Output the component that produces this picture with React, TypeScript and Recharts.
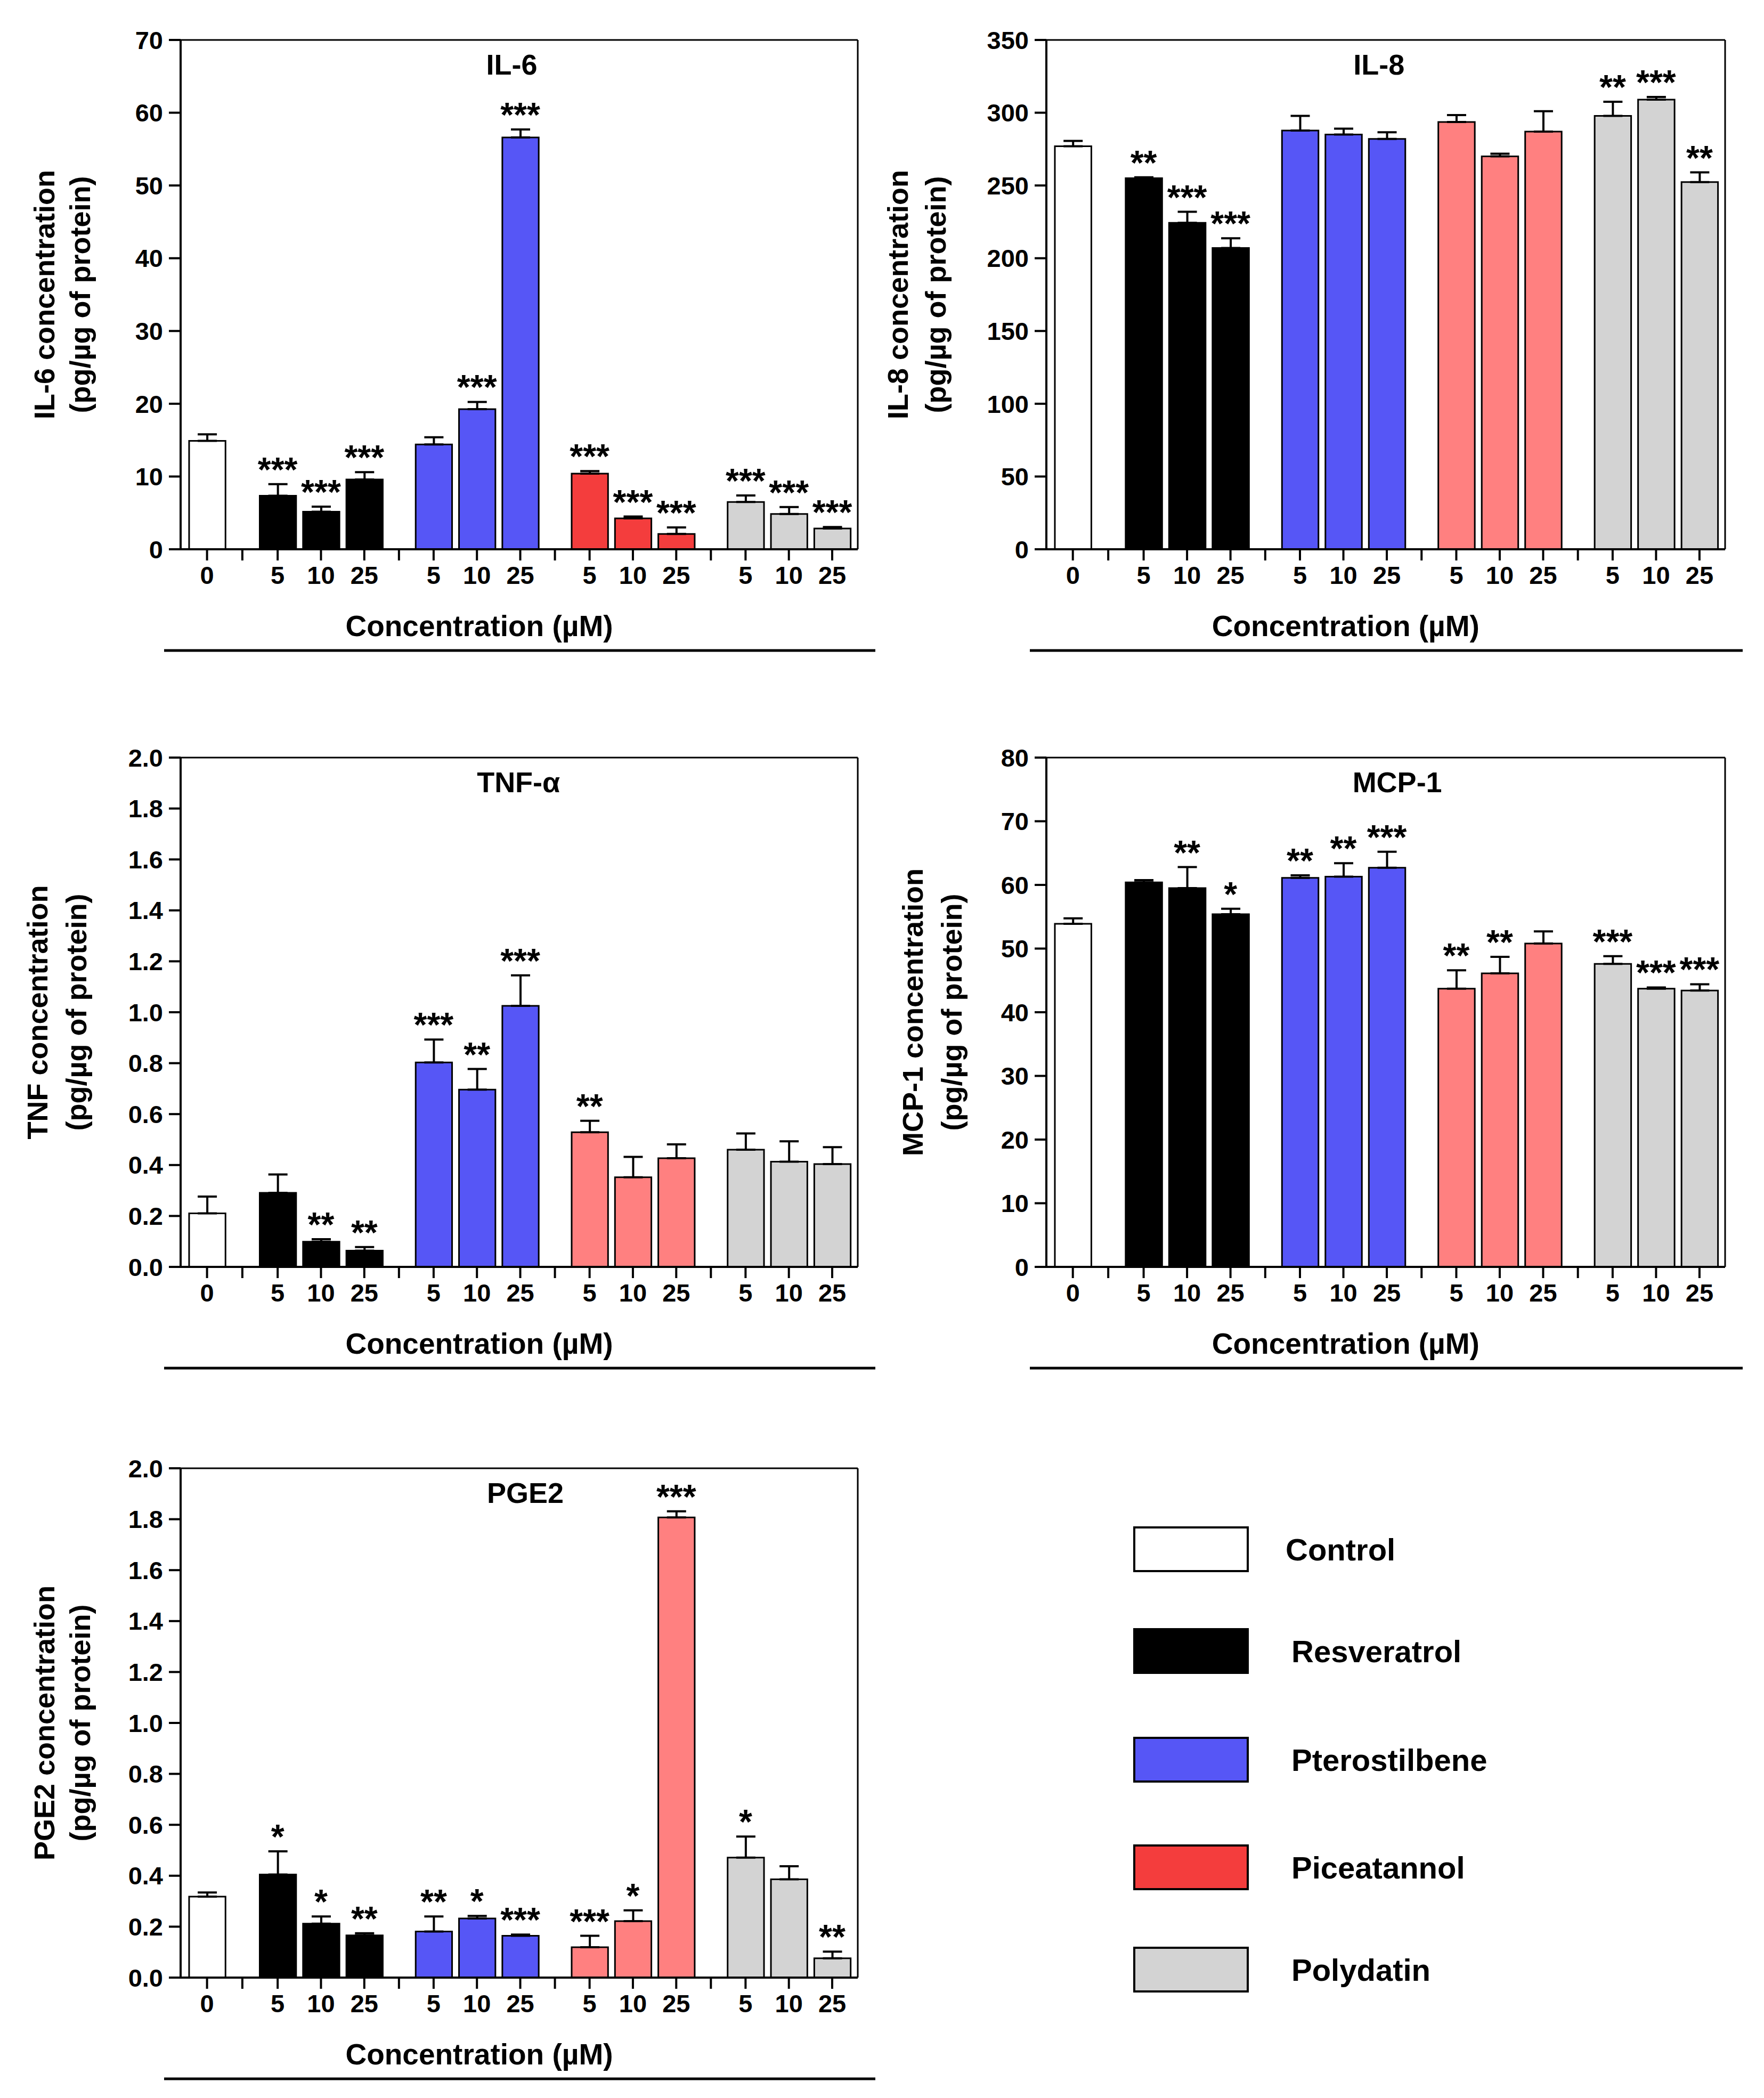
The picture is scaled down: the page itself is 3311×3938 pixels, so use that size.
import React from 'react';
import { ComposedChart, Bar, Cell, ErrorBar, Scatter, XAxis, YAxis, ReferenceLine, Label } from 'recharts';

const FONT = "'Liberation Sans', Arial, Helvetica, sans-serif";

// bars: control, then 3 doses for each stilbene
const treatments = ['Control', 'Resveratrol', 'Pterostilbene', 'Piceatannol', 'Polydatin'];
const barTreatment = [0, 1, 1, 1, 2, 2, 2, 3, 3, 3, 4, 4, 4];
const doseLabels = ['0', '5', '10', '25', '5', '10', '25', '5', '10', '25', '5', '10', '25'];
const treatmentColors = ['#ffffff', '#000000', '#5656f6', '#f43d3d', '#d3d3d3'];
const lightPiceatannol = '#ff8080';

// IL-6
const il6Mean = [14.9, 7.35, 5.16, 9.6, 14.4, 19.25, 56.6, 10.4, 4.25, 2.1, 6.5, 4.86, 2.85];
const il6Sd = [0.9, 1.6, 0.7, 1.0, 1.0, 1.0, 1.1, 0.35, 0.25, 0.9, 0.9, 0.95, 0.2];
const il6Sig = ['', '***', '***', '***', '', '***', '***', '***', '***', '***', '***', '***', '***'];
const il6Ticks = [0, 10, 20, 30, 40, 50, 60, 70];

// IL-8
const il8Mean = [277, 255, 224.3, 207, 287.8, 285, 282, 293.6, 270, 287, 297.8, 309, 252.3];
const il8Sd = [3.6, 0.6, 7.6, 6.7, 10, 4, 4.6, 4.8, 1.8, 14, 9.7, 1.8, 6.7];
const il8Sig = ['', '**', '***', '***', '', '', '', '', '', '', '**', '***', '**'];
const il8Ticks = [0, 50, 100, 150, 200, 250, 300, 350];

// TNF-alpha
const tnfMean = [0.21, 0.291, 0.099, 0.064, 0.803, 0.696, 1.025, 0.529, 0.352, 0.427, 0.46, 0.413, 0.404];
const tnfSd = [0.066, 0.072, 0.01, 0.014, 0.09, 0.081, 0.12, 0.045, 0.08, 0.054, 0.064, 0.08, 0.066];
const tnfSig = ['', '', '**', '**', '***', '**', '***', '**', '', '', '', '', ''];
const tnfTicks = [0, 0.2, 0.4, 0.6, 0.8, 1.0, 1.2, 1.4, 1.6, 1.8, 2.0];

// MCP-1
const mcpMean = [53.9, 60.4, 59.5, 55.4, 61.1, 61.3, 62.7, 43.7, 46.1, 50.8, 47.6, 43.7, 43.4];
const mcpSd = [0.85, 0.35, 3.3, 0.85, 0.4, 2.1, 2.5, 2.9, 2.6, 1.9, 1.2, 0.2, 1.0];
const mcpSig = ['', '', '**', '*', '**', '**', '***', '**', '**', '', '***', '***', '***'];
const mcpTicks = [0, 10, 20, 30, 40, 50, 60, 70, 80];

// PGE2
const pgeMean = [0.318, 0.405, 0.212, 0.166, 0.181, 0.232, 0.164, 0.119, 0.222, 1.807, 0.471, 0.386, 0.076];
const pgeSd = [0.016, 0.091, 0.028, 0.008, 0.059, 0.01, 0.005, 0.045, 0.042, 0.024, 0.083, 0.051, 0.026];
const pgeSig = ['', '*', '*', '**', '**', '*', '***', '***', '*', '***', '*', '', '**'];
const pgeTicks = [0, 0.2, 0.4, 0.6, 0.8, 1.0, 1.2, 1.4, 1.6, 1.8, 2.0];

// layout of the x axis (units = distance between neighbouring bars)
const FIRST_DOSE = 1.63;
const GROUP_STEP = 3.6;
const X_DOMAIN: [number, number] = [-0.61, 15.02];

const xOf = (i: number) => {
  const g = barTreatment[i];
  if (g === 0) return 0;
  return FIRST_DOSE + (g - 1) * GROUP_STEP + (i - 1 - (g - 1) * 3);
};
const barX = barTreatment.map((_, i) => xOf(i));
const separators = [0, 3, 6, 9].map((i) => (barX[i] + barX[i + 1]) / 2);
const xTicks = [...barX, ...separators].sort((a, b) => a - b);
const tickText = new Map<number, string>(barX.map((x, i) => [x, doseLabels[i]]));

const Y_AXIS_W = 339;
const PLOT_H = 956;
const M_TOP = 40;
const M_RIGHT = 60;
const X_AXIS_H = 230;

type Panel = {
  title: string;
  titleFrac: number;
  yLine1: string;
  yOffsets: [number, number];
  mean: number[];
  sd: number[];
  sig: string[];
  ticks: number[];
  decimals: number;
  picColor: string;
  plotLeft: number;
  plotTop: number;
  plotW: number;
};

const panels: Panel[] = [
  { title: 'IL-6', titleFrac: 0.489, yLine1: 'IL-6 concentration', yOffsets: [-256, -189], mean: il6Mean, sd: il6Sd, sig: il6Sig, ticks: il6Ticks, decimals: 0, picColor: treatmentColors[3], plotLeft: 339, plotTop: 75, plotW: 1271 },
  { title: 'IL-8', titleFrac: 0.49, yLine1: 'IL-8 concentration', yOffsets: [-279, -208], mean: il8Mean, sd: il8Sd, sig: il8Sig, ticks: il8Ticks, decimals: 0, picColor: lightPiceatannol, plotLeft: 1964, plotTop: 75, plotW: 1274 },
  { title: 'TNF-α', titleFrac: 0.499, yLine1: 'TNF concentration', yOffsets: [-269, -196], mean: tnfMean, sd: tnfSd, sig: tnfSig, ticks: tnfTicks, decimals: 1, picColor: lightPiceatannol, plotLeft: 339, plotTop: 1422, plotW: 1271 },
  { title: 'MCP-1', titleFrac: 0.517, yLine1: 'MCP-1 concentration', yOffsets: [-251, -178], mean: mcpMean, sd: mcpSd, sig: mcpSig, ticks: mcpTicks, decimals: 0, picColor: lightPiceatannol, plotLeft: 1964, plotTop: 1422, plotW: 1274 },
  { title: 'PGE2', titleFrac: 0.509, yLine1: 'PGE2 concentration', yOffsets: [-256, -189], mean: pgeMean, sd: pgeSd, sig: pgeSig, ticks: pgeTicks, decimals: 1, picColor: lightPiceatannol, plotLeft: 339, plotTop: 2756, plotW: 1271 },
];

const vb = (props: any) => props.viewBox ?? props;

const StarShape = (props: any) => {
  const { cx, cy, payload } = props;
  if (!payload || !payload.sig) return <g />;
  return (
    <text x={cx} y={cy - 5} textAnchor="middle" fontFamily={FONT} fontWeight="bold" fontSize={64} fill="#000">
      {payload.sig}
    </text>
  );
};

function PanelChart({ p }: { p: Panel }) {
  const rows = p.mean.map((m, i) => ({
    x: barX[i],
    mean: m,
    err: [0, p.sd[i]],
    top: m + p.sd[i],
    sig: p.sig[i],
  }));
  const yMax = p.ticks[p.ticks.length - 1];
  const width = Y_AXIS_W + p.plotW + M_RIGHT;
  const height = M_TOP + PLOT_H + X_AXIS_H;
  const barSize = (0.84 * p.plotW) / (X_DOMAIN[1] - X_DOMAIN[0]);

  const yTitle = (props: any) => {
    const v = vb(props);
    const axisX = v.x + v.width;
    const cy = v.y + v.height / 2;
    const lines = [p.yLine1, '(pg/µg of protein)'];
    return (
      <g>
        {lines.map((t, k) => {
          const bx = axisX + p.yOffsets[k] + 19;
          return (
            <text key={k} x={bx} y={cy} transform={`rotate(-90, ${bx}, ${cy})`} textAnchor="middle"
              fontFamily={FONT} fontWeight="bold" fontSize={54} fill="#000">{t}</text>
          );
        })}
      </g>
    );
  };

  const xTitle = (props: any) => {
    const v = vb(props);
    return (
      <g>
        <text x={v.x + 0.441 * v.width} y={v.y + 163} textAnchor="middle" fontFamily={FONT} fontWeight="bold" fontSize={55} fill="#000">
          Concentration (µM)
        </text>
        <line x1={v.x - 31} x2={v.x + v.width + 33} y1={v.y + 190} y2={v.y + 190} stroke="#000" strokeWidth={5} />
      </g>
    );
  };

  const panelTitle = (props: any) => {
    const v = vb(props);
    return (
      <text x={v.x + p.titleFrac * v.width} y={v.y + 65} textAnchor="middle" fontFamily={FONT} fontWeight="bold" fontSize={54} fill="#000">
        {p.title}
      </text>
    );
  };

  return (
    <div style={{ position: 'absolute', left: p.plotLeft - Y_AXIS_W, top: p.plotTop - M_TOP }}>
      <ComposedChart width={width} height={height} data={rows} margin={{ top: M_TOP, right: M_RIGHT, bottom: 0, left: 0 }}>
        <XAxis
          dataKey="x"
          type="number"
          domain={X_DOMAIN}
          allowDataOverflow
          ticks={xTicks}
          interval={0}
          tickFormatter={(v: number) => tickText.get(v) ?? ''}
          tickSize={21}
          tickMargin={11}
          height={X_AXIS_H}
          axisLine={{ stroke: '#000', strokeWidth: 4 }}
          tickLine={{ stroke: '#000', strokeWidth: 4 }}
          tick={{ fill: '#000', fontSize: 47, fontWeight: 'bold', fontFamily: FONT }}
        >
          <Label content={xTitle} />
        </XAxis>
        <YAxis
          type="number"
          domain={[0, yMax]}
          ticks={p.ticks}
          interval={0}
          width={Y_AXIS_W}
          tickFormatter={(v: number) => v.toFixed(p.decimals)}
          tickSize={22}
          tickMargin={11}
          axisLine={{ stroke: '#000', strokeWidth: 4 }}
          tickLine={{ stroke: '#000', strokeWidth: 4 }}
          tick={{ fill: '#000', fontSize: 47, fontWeight: 'bold', fontFamily: FONT }}
        >
          <Label content={yTitle} />
        </YAxis>
        <ReferenceLine y={yMax} stroke="#000" strokeWidth={3} ifOverflow="visible" label={panelTitle} />
        <ReferenceLine x={X_DOMAIN[1]} stroke="#000" strokeWidth={3} ifOverflow="visible" />
        <Bar dataKey="mean" barSize={barSize} stroke="#000" strokeWidth={3} isAnimationActive={false}>
          {rows.map((_, i) => {
            const g = barTreatment[i];
            return <Cell key={i} fill={g === 3 ? p.picColor : treatmentColors[g]} />;
          })}
          <ErrorBar dataKey="err" direction="y" width={18} stroke="#000" strokeWidth={4} isAnimationActive={false} />
        </Bar>
        <Scatter dataKey="top" shape={StarShape} isAnimationActive={false} legendType="none" />
      </ComposedChart>
    </div>
  );
}

const legendRows = [2908, 3099, 3303, 3505, 3697];

function LegendBlock() {
  return (
    <svg style={{ position: 'absolute', left: 0, top: 0 }} width={3311} height={3938} pointerEvents="none">
      {treatments.map((t, i) => (
        <g key={t}>
          <rect x={2129} y={legendRows[i] - 41} width={213} height={82} fill={treatmentColors[i]} stroke="#000" strokeWidth={4} />
          <text x={i === 0 ? 2413 : 2424} y={legendRows[i] + 21} fontFamily={FONT} fontWeight="bold" fontSize={58} fill="#000">
            {t}
          </text>
        </g>
      ))}
    </svg>
  );
}

export default function App() {
  return (
    <div style={{ position: 'absolute', left: 0, top: 0, width: 3311, height: 3938, background: '#fff', overflow: 'hidden' }}>
      {panels.map((p) => (
        <PanelChart key={p.title} p={p} />
      ))}
      <LegendBlock />
    </div>
  );
}
